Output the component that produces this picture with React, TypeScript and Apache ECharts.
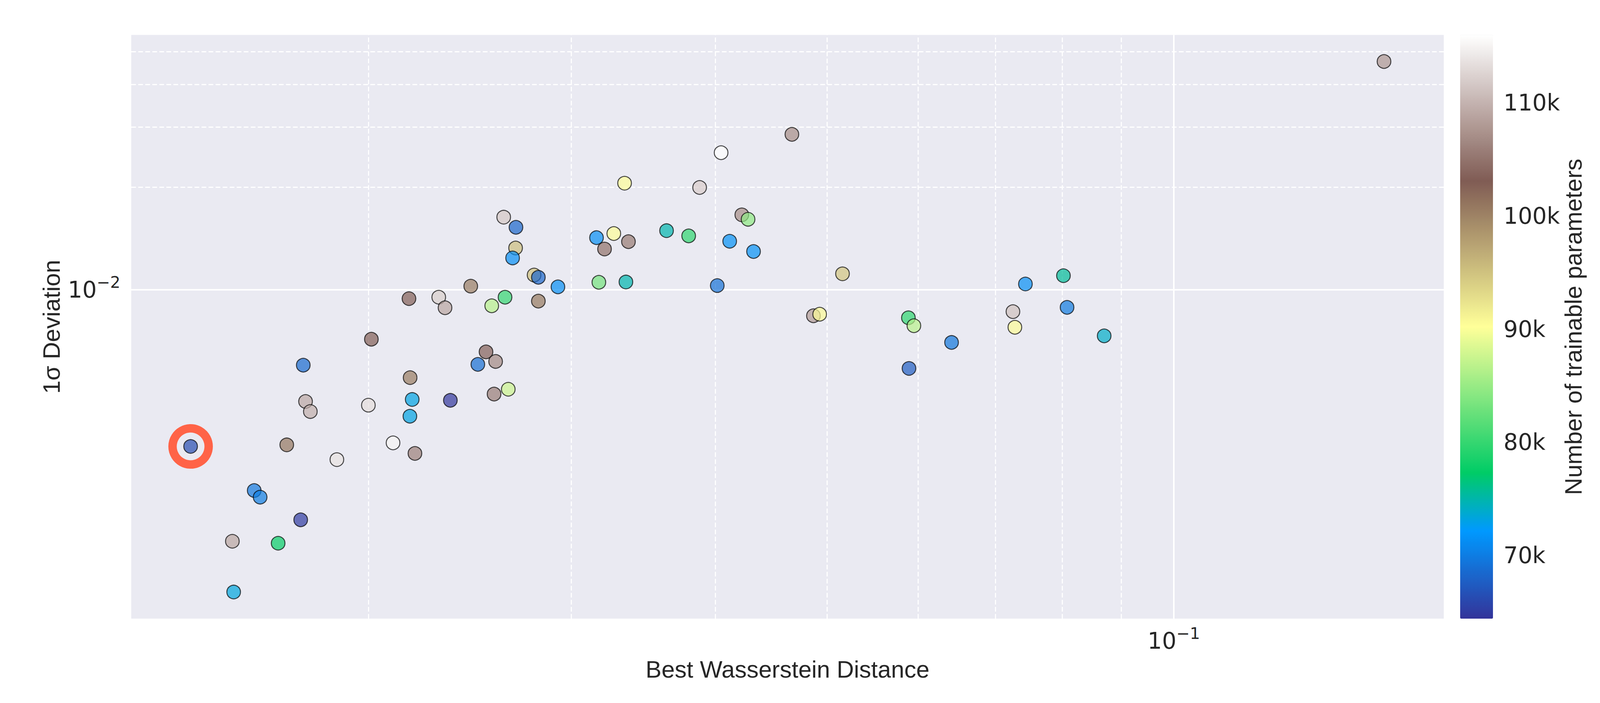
import React, { useEffect, useRef } from "react";
import * as echarts from "echarts";

// ---------------- data ----------------
const wassersteinDistance = [
  0.02621, 0.02686, 0.02684, 0.02668, 0.02785, 0.02809, 0.02921, 0.02454, 0.02169, 0.02302,
  0.02331, 0.02628, 0.02559, 0.02809, 0.02012, 0.01756, 0.0253, 0.02579, 0.02489, 0.02174,
  0.02645, 0.02571, 0.01764, 0.01781, 0.02, 0.02183, 0.02173, 0.02356, 0.01402, 0.01699,
  0.01878, 0.02101, 0.02195, 0.01592, 0.01611, 0.01747, 0.01524, 0.0167, 0.01528, 0.04662,
  0.04047, 0.03337, 0.03877, 0.04218, 0.04271, 0.03629, 0.03793, 0.03155, 0.03266, 0.03363,
  0.03206, 0.04117, 0.04318, 0.0317, 0.03346, 0.04016, 0.05158, 0.04867, 0.04928, 0.05884,
  0.05949, 0.07251, 0.07279, 0.07434, 0.1522, 0.08021, 0.08079, 0.08701, 0.06414, 0.05891,
];
const sigmaDeviation = [
  0.01633, 0.01525, 0.01326, 0.0124, 0.01105, 0.01088, 0.0102, 0.01025, 0.009421, 0.009511,
  0.008858, 0.009511, 0.008975, 0.009264, 0.007163, 0.00601, 0.006575, 0.006164, 0.006042, 0.005526,
  0.005109, 0.004945, 0.004703, 0.004395, 0.004588, 0.004768, 0.004258, 0.00474, 0.003472, 0.003509,
  0.003176, 0.003556, 0.003312, 0.002578, 0.002465, 0.002115, 0.00183, 0.001806, 0.001299, 0.02857,
  0.02524, 0.02054, 0.01996, 0.01659, 0.0161, 0.01491, 0.01439, 0.01422, 0.01462, 0.01384,
  0.01317, 0.01388, 0.01295, 0.01052, 0.01054, 0.01029, 0.01114, 0.008391, 0.008481, 0.008279,
  0.007845, 0.008627, 0.007763, 0.0104, 0.04672, 0.011, 0.00888, 0.007325, 0.007008, 0.00588,
];
const trainableParams = [
  111600, 68200, 95400, 71400, 95000, 68200, 71400, 100500, 103300, 112100,
  108900, 79900, 86600, 100800, 103300, 68500, 103400, 106700, 68800, 100500,
  87600, 105700, 109100, 109600, 113300, 73100, 73100, 64600, 66200, 101000,
  113700, 115200, 105900, 69600, 70000, 65000, 108900, 77600, 73300, 107000,
  116000, 90300, 112000, 107000, 84500, 74900, 79600, 71400, 90300, 105500,
  104800, 71500, 71500, 83200, 74900, 69000, 94800, 108000, 90500, 79600,
  86600, 111100, 90500, 71400, 107700, 75600, 69800, 74000, 69500, 67500,
];

const xRange = [0.012452, 0.1715];
const yRange = [0.0010852, 0.055887];
const paramRange = [64400, 116000];
const xMajorGrid = [0.1];
const xMinorGrid = [0.02, 0.03, 0.04, 0.05, 0.06, 0.07, 0.08, 0.09];
const yMajorGrid = [0.01];
const yMinorGrid = [0.002, 0.003, 0.004, 0.005, 0.006, 0.007, 0.008, 0.009, 0.02, 0.03, 0.04, 0.05];

// matplotlib "terrain" colormap anchors
const terrainAnchors: [number, number[]][] = [
  [0.0, [0.2, 0.2, 0.6]],
  [0.15, [0.0, 0.6, 1.0]],
  [0.25, [0.0, 0.8, 0.4]],
  [0.5, [1.0, 1.0, 0.6]],
  [0.75, [0.5, 0.36, 0.33]],
  [1.0, [1.0, 1.0, 1.0]],
];

function terrain(t: number): string {
  let i = 0;
  while (i < terrainAnchors.length - 2 && t > terrainAnchors[i + 1][0]) i++;
  const [t0, c0] = terrainAnchors[i];
  const [t1, c1] = terrainAnchors[i + 1];
  const f = (t - t0) / (t1 - t0);
  const c = c0.map((v, k) => Math.round((v + (c1[k] - v) * f) * 255));
  return "#" + c.map((v) => v.toString(16).padStart(2, "0")).join("");
}
const terrainColors = Array.from({ length: 41 }, (_, i) => terrain(i / 40));

const TEXT = "#262626";
const GRID_LEFT = 336;
const GRID_TOP = 89.6;
const GRID_W = 3360;
const GRID_H = 1494.4;

function powerLabel(v: number): string {
  const e = Math.log10(v);
  const r = Math.round(e);
  if (Math.abs(e - r) > 1e-6) return "";
  return `{b|10}{s|${r < 0 ? "\u2212" : ""}${Math.abs(r)}}`;
}

const powerRich = {
  b: { fontSize: 58, fontFamily: "DejaVu Sans", color: TEXT, lineHeight: 80 },
  s: { fontSize: 41, fontFamily: "DejaVu Sans", color: TEXT, lineHeight: 43, verticalAlign: "top" },
};

const nameStyle = { fontFamily: "Liberation Sans", fontSize: 61, color: TEXT };

export default function App() {
  const ref = useRef<HTMLDivElement>(null);

  useEffect(() => {
    if (!ref.current) return;
    const chart = echarts.init(ref.current, undefined, { renderer: "svg" });

    const points = wassersteinDistance.map((x, i) => [x, sigmaDeviation[i], trainableParams[i]]);
    let best = 0;
    wassersteinDistance.forEach((x, i) => {
      if (x < wassersteinDistance[best]) best = i;
    });

    const minorStyle = { color: "#ffffff", width: 2.8, type: [12, 6] };
    const majorStyle = { color: "#ffffff", width: 4, type: "solid" };
    const gridLines = [
      ...xMinorGrid.map((v) => ({ xAxis: v, lineStyle: minorStyle })),
      ...yMinorGrid.map((v) => ({ yAxis: v, lineStyle: minorStyle })),
      ...xMajorGrid.map((v) => ({ xAxis: v, lineStyle: majorStyle })),
      ...yMajorGrid.map((v) => ({ yAxis: v, lineStyle: majorStyle })),
    ];

    chart.setOption({
      animation: false,
      backgroundColor: "#ffffff",
      grid: [
        {
          left: GRID_LEFT,
          top: GRID_TOP,
          width: GRID_W,
          height: GRID_H,
          show: true,
          backgroundColor: "#EAEAF2",
          borderWidth: 0,
        },
        { left: 3738, top: GRID_TOP, width: 84, height: GRID_H, show: false },
      ],
      xAxis: [
        {
          type: "log",
          logBase: 10,
          gridIndex: 0,
          min: xRange[0],
          max: xRange[1],
          name: "Best Wasserstein Distance",
          nameLocation: "middle",
          nameGap: 99.5,
          nameTextStyle: nameStyle,
          axisLine: { show: false },
          axisTick: { show: false },
          splitLine: { show: false },
          axisLabel: {
            margin: 17,
            formatter: powerLabel,
            rich: powerRich,
            showMinLabel: false,
            showMaxLabel: false,
          },
        },
        { type: "value", gridIndex: 1, min: 0, max: 1, show: false },
      ],
      yAxis: [
        {
          type: "log",
          logBase: 10,
          gridIndex: 0,
          min: yRange[0],
          max: yRange[1],
          name: "1\u03c3 Deviation",
          nameLocation: "middle",
          nameGap: 170.5,
          nameTextStyle: nameStyle,
          axisLine: { show: false },
          axisTick: { show: false },
          splitLine: { show: false },
          axisLabel: {
            margin: 28,
            formatter: powerLabel,
            rich: powerRich,
            showMinLabel: false,
            showMaxLabel: false,
          },
        },
        {
          type: "value",
          gridIndex: 1,
          position: "right",
          min: paramRange[0],
          max: paramRange[1],
          name: "Number of trainable parameters",
          nameLocation: "middle",
          nameRotate: 90,
          nameGap: 175.5,
          nameTextStyle: nameStyle,
          axisLine: { show: false },
          axisTick: { show: false },
          splitLine: { show: false },
          axisLabel: {
            margin: 27,
            fontFamily: "DejaVu Sans",
            fontSize: 58,
            color: TEXT,
            showMinLabel: false,
            showMaxLabel: false,
            formatter: (v: number) => (Math.abs(v % 10000) < 1e-6 ? `${v / 1000}k` : ""),
          },
        },
      ],
      visualMap: {
        type: "continuous",
        min: paramRange[0],
        max: paramRange[1],
        dimension: 2,
        seriesIndex: 0,
        inRange: { color: terrainColors },
        left: 3738,
        top: GRID_TOP,
        itemWidth: 84,
        itemHeight: GRID_H,
        padding: 0,
        calculable: false,
        orient: "vertical",
        hoverLink: false,
      },
      series: [
        {
          type: "scatter",
          xAxisIndex: 0,
          yAxisIndex: 0,
          data: points,
          symbol: "circle",
          symbolSize: 35,
          z: 10,
          itemStyle: { opacity: 0.7, borderColor: "#000000", borderWidth: 2.5 },
          markLine: {
            silent: true,
            z: 3,
            symbol: ["none", "none"],
            label: { show: false },
            emphasis: { disabled: true },
            animation: false,
            data: gridLines,
          },
        },
        {
          type: "scatter",
          xAxisIndex: 0,
          yAxisIndex: 0,
          data: [[wassersteinDistance[best], sigmaDeviation[best]]],
          symbol: "circle",
          symbolSize: 92.5,
          z: 9,
          silent: true,
          itemStyle: {
            color: "rgba(0,0,0,0)",
            borderColor: "#FF6347",
            borderWidth: 21.5,
            opacity: 1,
          },
        },
      ],
    });

    return () => chart.dispose();
  }, []);

  return (
    <div
      ref={ref}
      style={{ position: "absolute", left: 0, top: 0, width: 4200, height: 1800, background: "#fff" }}
    />
  );
}
